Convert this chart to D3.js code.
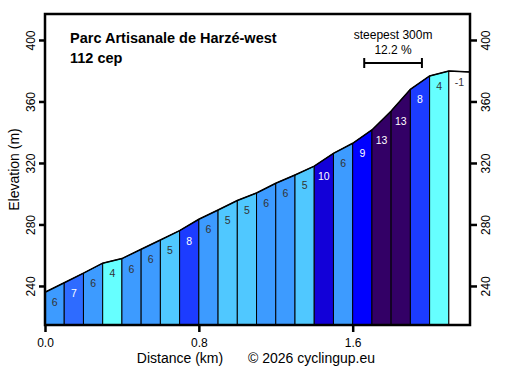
<!DOCTYPE html>
<html lang="en">
<head>
<meta charset="UTF-8">
<title>Parc Artisanale de Harzé-west</title>
<style>
    body { margin: 0; background: #fff; }
    text { font-family: "Liberation Sans", Arial, sans-serif; fill: #000; }
    .tick text { font-size: 12px; }
    .seg-label { font-size: 10.5px; text-anchor: middle; }
</style>
</head>
<body>
<svg width="510" height="371"></svg>
<script src="https://cdn.jsdelivr.net/npm/d3@7/dist/d3.min.js"></script>
<script>
// distance (km) at each segment boundary
var distances = [0, 0.1, 0.2, 0.3, 0.4, 0.5, 0.6, 0.7, 0.8, 0.9, 1.0, 1.1,
                 1.2, 1.3, 1.4, 1.5, 1.6, 1.7, 1.8, 1.9, 2.0, 2.1, 2.21];
// elevation (m) at each boundary
var elevations = [235.9, 242.1, 248.3, 254.8, 257.8, 263.9, 269.9, 276.0, 283.4, 289.4, 295.6, 300.5,
                  306.8, 312.2, 317.9, 326.3, 332.8, 341.5, 353.8, 367.9, 376.6, 379.8, 379.2];
// gradient label of each segment (%)
var grades = [6, 7, 6, 4, 6, 6, 5, 8, 6, 5, 5, 6, 6, 5, 10, 6, 9, 13, 13, 8, 4, -1];
var xTicks = [0.0, 0.8, 1.6];
var yTicks = [240, 280, 320, 360, 400];
var steepest = {start: 1.66, length: 0.3, grade: 12.2};

var gradeColor = {"-1": "#ffffff", "4": "#66ffff", "5": "#50c8ff", "6": "#3d9bff", "7": "#2e6bff",
                  "8": "#1c3cff", "9": "#0000ff", "10": "#1200d8", "13": "#330066"};

var svg = d3.select("svg"),
    pLeft = 45, pRight = 470, pTop = 14, pBottom = 325;

var x = d3.scaleLinear().domain([0, 2.21]).range([pLeft, pRight]);
var y = d3.scaleLinear().domain([214.6, 416.9]).range([pBottom, pTop]);

// segments
var segs = grades.map(function(g, i) {
    return {g: g, d0: distances[i], d1: distances[i + 1], e0: elevations[i], e1: elevations[i + 1]};
});

var seg = svg.append("g").selectAll("g").data(segs).enter().append("g");
seg.append("path")
    .attr("d", function(d) {
        return "M" + x(d.d0) + "," + pBottom + "L" + x(d.d0) + "," + y(d.e0) +
               "L" + x(d.d1) + "," + y(d.e1) + "L" + x(d.d1) + "," + pBottom + "Z";
    })
    .attr("fill", function(d) { return gradeColor[d.g]; })
    .attr("stroke", "#000")
    .attr("stroke-width", 1);
seg.append("text")
    .attr("class", "seg-label")
    .attr("x", function(d) { return (x(d.d0) + x(d.d1)) / 2; })
    .attr("y", function(d) { return y(Math.min(d.e0, d.e1)) + 14; })
    .style("fill", function(d) { return (d.g >= 7) ? "#fff" : "#333"; })
    .text(function(d) { return d.g; });

// profile line
var line = d3.line().x(function(d, i) { return x(distances[i]); }).y(function(d) { return y(d); });
svg.append("path")
    .attr("d", line(elevations))
    .attr("fill", "none")
    .attr("stroke", "#000")
    .attr("stroke-width", 1.5);

// frame
svg.append("rect")
    .attr("x", pLeft).attr("y", pTop)
    .attr("width", pRight - pLeft).attr("height", pBottom - pTop)
    .attr("fill", "none").attr("stroke", "#000").attr("stroke-width", 2.5);

// axes
var xAxis = svg.append("g")
    .attr("transform", "translate(0," + pBottom + ")")
    .call(d3.axisBottom(x).tickValues(xTicks).tickFormat(d3.format(".1f")).tickSize(7).tickPadding(6));
var yLeft = svg.append("g")
    .attr("transform", "translate(" + pLeft + ",0)")
    .call(d3.axisLeft(y).tickValues(yTicks).tickSize(6).tickPadding(3));
var yRight = svg.append("g")
    .attr("transform", "translate(" + pRight + ",0)")
    .call(d3.axisRight(y).tickValues(yTicks).tickSize(7).tickPadding(3));
[xAxis, yLeft, yRight].forEach(function(a) {
    a.select(".domain").remove();
    a.selectAll(".tick line").attr("stroke-width", 2.5);
    a.selectAll("text").attr("font-family", null).attr("font-size", null);
});
yLeft.selectAll(".tick text")
    .attr("transform", "rotate(-90)")
    .attr("x", 0).attr("y", -10).attr("dy", null)
    .attr("text-anchor", "middle");
yRight.selectAll(".tick text")
    .attr("transform", "rotate(-90)")
    .attr("x", 0).attr("y", 20).attr("dy", null)
    .attr("text-anchor", "middle");

// titles
svg.append("text").attr("x", 70).attr("y", 43)
    .attr("font-size", 14.5).attr("font-weight", "bold").text("Parc Artisanale de Harzé-west");
svg.append("text").attr("x", 70).attr("y", 63)
    .attr("font-size", 14.5).attr("font-weight", "bold").text("112 cep");

svg.append("text").attr("x", 180).attr("y", 363)
    .attr("font-size", 14).attr("text-anchor", "middle").text("Distance (km)");
svg.append("text").attr("x", 248).attr("y", 363)
    .attr("font-size", 14).text("© 2026 cyclingup.eu");
svg.append("text")
    .attr("transform", "translate(19," + ((pTop + pBottom) / 2) + ") rotate(-90)")
    .attr("font-size", 14).attr("text-anchor", "middle").text("Elevation (m)");

// steepest 300m marker
var sx0 = x(steepest.start), sx1 = x(steepest.start + steepest.length), sy = 63;
svg.append("text").attr("x", (sx0 + sx1) / 2).attr("y", 39)
    .attr("font-size", 12).attr("text-anchor", "middle").text("steepest 300m");
svg.append("text").attr("x", (sx0 + sx1) / 2).attr("y", 54)
    .attr("font-size", 12).attr("text-anchor", "middle").text(steepest.grade.toFixed(1) + " %");
var br = svg.append("g").attr("stroke", "#000").attr("stroke-width", 2);
br.append("line").attr("x1", sx0).attr("x2", sx1).attr("y1", sy).attr("y2", sy);
br.append("line").attr("x1", sx0).attr("x2", sx0).attr("y1", sy - 5).attr("y2", sy + 5);
br.append("line").attr("x1", sx1).attr("x2", sx1).attr("y1", sy - 5).attr("y2", sy + 5);
</script>
</body>
</html>
